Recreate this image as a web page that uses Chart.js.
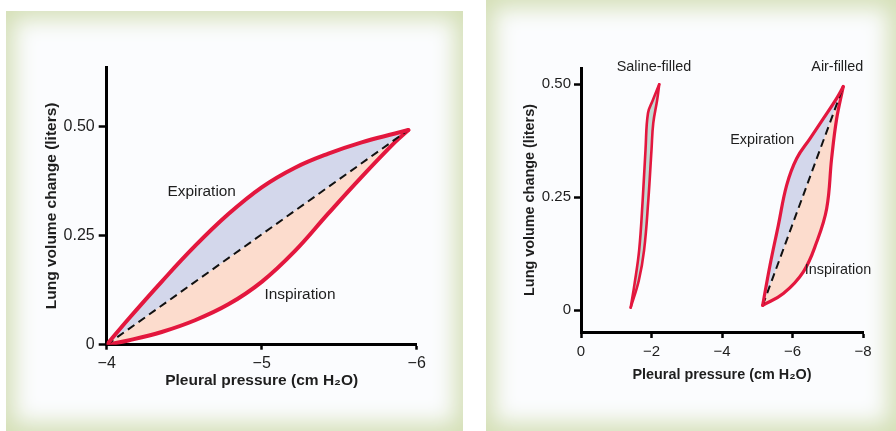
<!DOCTYPE html>
<html>
<head>
<meta charset="utf-8">
<script src="https://cdn.jsdelivr.net/npm/chart.js@4.4.1/dist/chart.umd.min.js"></script>
<style>
  body { margin: 0; background: #ffffff; }
  .panel {
    position: absolute;
    background: #fbfcfe;
    box-shadow: inset 0 0 22px 8px #d4dfb6;
  }
  #leftPanel { left: 6px; top: 11px; width: 457px; height: 420px; }
  #rightPanel { left: 486px; top: 0px; width: 410px; height: 431px; }
  canvas { position: absolute; left: 0; top: 0; }
</style>
</head>
<body>
<div class="panel" id="leftPanel"><canvas id="leftChart" width="457" height="420"></canvas></div>
<div class="panel" id="rightPanel"><canvas id="rightChart" width="410" height="431"></canvas></div>

<script>
// ---- left chart: normal lung loop ----
var leftXTicks = [-4, -5, -6];
var leftXTickLabels = ['\u22124', '\u22125', '\u22126'];
var leftYTicks = [0, 0.25, 0.5];
var leftYTickLabels = ['0', '0.25', '0.50'];

var leftExpX = [-4, -4.139, -4.355, -4.57, -4.785, -5.0, -5.215, -5.43, -5.645, -5.86, -5.946];
var leftExpY = [0, 0.0584, 0.1448, 0.2265, 0.2996, 0.3609, 0.406, 0.4383, 0.4641, 0.4845, 0.4924];
var leftInsX = [-4, -4.139, -4.355, -4.57, -4.785, -5.0, -5.215, -5.43, -5.645, -5.86, -5.946];
var leftInsY = [0, 0.0097, 0.0292, 0.0561, 0.0926, 0.1442, 0.2152, 0.3012, 0.385, 0.4646, 0.4924];
var leftDashX = [-4, -5.946];
var leftDashY = [0, 0.4924];

var leftLabelText = ['Expiration', 'Inspiration'];
var leftLabelX = [-4.613, -5.247];
var leftLabelY = [0.35, 0.114];

// ---- right chart: saline vs air filled ----
var rightXTicks = [0, -2, -4, -6, -8];
var rightXTickLabels = ['0', '\u22122', '\u22124', '\u22126', '\u22128'];
var rightYTicks = [0, 0.25, 0.5];
var rightYTickLabels = ['0', '0.25', '0.50'];

var salineLeftX = [-1.41, -1.52, -1.65, -1.75, -1.83, -1.9, -2.04, -2.22];
var salineLeftY = [0.006, 0.059, 0.133, 0.244, 0.355, 0.436, 0.465, 0.5];
var salineRightX = [-1.41, -1.64, -1.79, -1.91, -2.0, -2.05, -2.16, -2.22];
var salineRightY = [0.006, 0.066, 0.133, 0.244, 0.355, 0.414, 0.465, 0.5];

var airExpX = [-5.154, -5.362, -5.598, -5.835, -6.118, -6.496, -6.874, -7.253, -7.44];
var airExpY = [0.011, 0.0997, 0.188, 0.277, 0.336, 0.38, 0.424, 0.469, 0.495];
var airInsX = [-5.154, -5.74, -6.307, -6.686, -6.97, -7.11, -7.253, -7.44];
var airInsY = [0.011, 0.037, 0.085, 0.151, 0.225, 0.336, 0.424, 0.495];
var airDashX = [-5.154, -7.44];
var airDashY = [0.011, 0.495];

var rightLabelText = ['Saline-filled', 'Air-filled', 'Expiration', 'Inspiration'];
var rightLabelX = [-2.07, -7.27, -5.14, -7.29];
var rightLabelY = [0.538, 0.538, 0.377, 0.089];

var RED = '#e3173e';
var BLUE_FILL = '#d3d7eb';
var PEACH_FILL = '#fcdccd';
var SALINE_FILL = '#c2dad3';
var FONT = '"Liberation Sans", Arial, Helvetica, sans-serif';
var TEXT = '#1e1e1e';

function pts(xs, ys) {
    return xs.map(function(x, i) { return {x: x, y: ys[i]}; });
}

function curve(xs, ys, fill, bg, width) {
    return {
        data: pts(xs, ys),
        showLine: true,
        borderColor: RED,
        borderWidth: width,
        borderJoinStyle: 'round',
        borderCapStyle: 'round',
        pointRadius: 0,
        tension: 0.4,
        fill: fill,
        backgroundColor: bg
    };
}

function dashed(xs, ys, fill, bg) {
    return {
        data: pts(xs, ys),
        showLine: true,
        borderColor: '#111',
        borderWidth: 2,
        borderDash: [8, 5],
        pointRadius: 0,
        fill: fill,
        backgroundColor: bg
    };
}

function labelFor(values, labels) {
    return function(value) {
        var i = values.indexOf(value);
        return i >= 0 ? labels[i] : '';
    };
}

// draws text labels at data positions
var textLabels = {
    id: 'textLabels',
    afterDatasetsDraw: function(chart, args, opts) {
        var ctx = chart.ctx;
        var xs = chart.scales.x, ys = chart.scales.y;
        ctx.save();
        ctx.fillStyle = TEXT;
        ctx.font = opts.size + 'px ' + FONT;
        ctx.textAlign = 'center';
        ctx.textBaseline = 'middle';
        for (var i = 0; i < opts.text.length; i++) {
            ctx.fillText(opts.text[i], xs.getPixelForValue(opts.xs[i]), ys.getPixelForValue(opts.ys[i]));
        }
        ctx.restore();
    }
};

function axes(cfg) {
    return {
        x: {
            type: 'linear',
            min: cfg.xMin, max: cfg.xMax,
            reverse: true,
            afterBuildTicks: function(s) { s.ticks = cfg.xTicks.map(function(v) { return {value: v}; }); },
            afterFit: function(s) { s.height = cfg.xHeight; },
            ticks: { callback: labelFor(cfg.xTicks, cfg.xLabels), color: TEXT, padding: cfg.xPad,
                     font: {family: FONT, size: cfg.tickSize}, maxRotation: 0, autoSkip: false },
            grid: { drawOnChartArea: false, drawTicks: true, tickLength: cfg.xTickLen, tickWidth: 2.5, tickColor: '#000' },
            border: { display: true, color: '#000', width: 3 },
            title: { display: true, text: 'Pleural pressure (cm H\u2082O)', color: TEXT,
                     font: {family: FONT, size: cfg.titleSize, weight: 'bold'}, padding: {top: 0, bottom: 4} }
        },
        y: {
            type: 'linear',
            min: cfg.yMin, max: cfg.yMax,
            afterBuildTicks: function(s) { s.ticks = cfg.yTicks.map(function(v) { return {value: v}; }); },
            afterFit: function(s) { s.width = cfg.yWidth; },
            ticks: { callback: labelFor(cfg.yTicks, cfg.yLabels), color: TEXT, padding: cfg.yPad,
                     font: {family: FONT, size: cfg.tickSize} },
            grid: { drawOnChartArea: false, drawTicks: true, tickLength: cfg.yTickLen, tickWidth: 2.5, tickColor: '#000' },
            border: { display: true, color: '#000', width: 3 },
            title: { display: true, text: 'Lung volume change (liters)', color: TEXT,
                     font: {family: FONT, size: cfg.titleSize, weight: 'bold'}, padding: {top: 0, bottom: 0} }
        }
    };
}

new Chart(document.getElementById('leftChart'), {
    type: 'scatter',
    data: {
        datasets: [
            curve(leftExpX, leftExpY, '+1', BLUE_FILL, 4),
            dashed(leftDashX, leftDashY, '+1', PEACH_FILL),
            curve(leftInsX, leftInsY, false, 'transparent', 4)
        ]
    },
    options: {
        responsive: false,
        animation: false,
        layout: { padding: {left: 36.7, right: 46.3, top: 56, bottom: 36.7} },
        plugins: {
            legend: {display: false},
            tooltip: {enabled: false},
            filler: {drawTime: 'beforeDatasetsDraw'},
            textLabels: {text: leftLabelText, xs: leftLabelX, ys: leftLabelY, size: 15.4}
        },
        scales: axes({
            xMin: -6, xMax: -4, xTicks: leftXTicks, xLabels: leftXTickLabels, xHeight: 49.6, xPad: 4, xTickLen: 5,
            yMin: 0, yMax: 0.637, yTicks: leftYTicks, yLabels: leftYTickLabels, yWidth: 64, yPad: 4, yTickLen: 8,
            tickSize: 16, titleSize: 15.5
        })
    },
    plugins: [textLabels]
});

new Chart(document.getElementById('rightChart'), {
    type: 'scatter',
    data: {
        datasets: [
            curve(salineLeftX, salineLeftY, '+1', SALINE_FILL, 2.6),
            curve(salineRightX, salineRightY, false, 'transparent', 2.6),
            curve(airExpX, airExpY, '+1', BLUE_FILL, 3.2),
            dashed(airDashX, airDashY, '+1', PEACH_FILL),
            curve(airInsX, airInsY, false, 'transparent', 3.2)
        ]
    },
    options: {
        responsive: false,
        animation: false,
        layout: { padding: {left: 35.4, right: 33, top: 68, bottom: 43.4} },
        plugins: {
            legend: {display: false},
            tooltip: {enabled: false},
            filler: {drawTime: 'beforeDatasetsDraw'},
            textLabels: {text: rightLabelText, xs: rightLabelX, ys: rightLabelY, size: 14.4}
        },
        scales: axes({
            xMin: -8, xMax: 0, xTicks: rightXTicks, xLabels: rightXTickLabels, xHeight: 55.6, xPad: 5, xTickLen: 6,
            yMin: -0.048, yMax: 0.536, yTicks: rightYTicks, yLabels: rightYTickLabels, yWidth: 59.6, yPad: 3, yTickLen: 7,
            tickSize: 15, titleSize: 14.4
        })
    },
    plugins: [textLabels]
});
</script>
</body>
</html>
